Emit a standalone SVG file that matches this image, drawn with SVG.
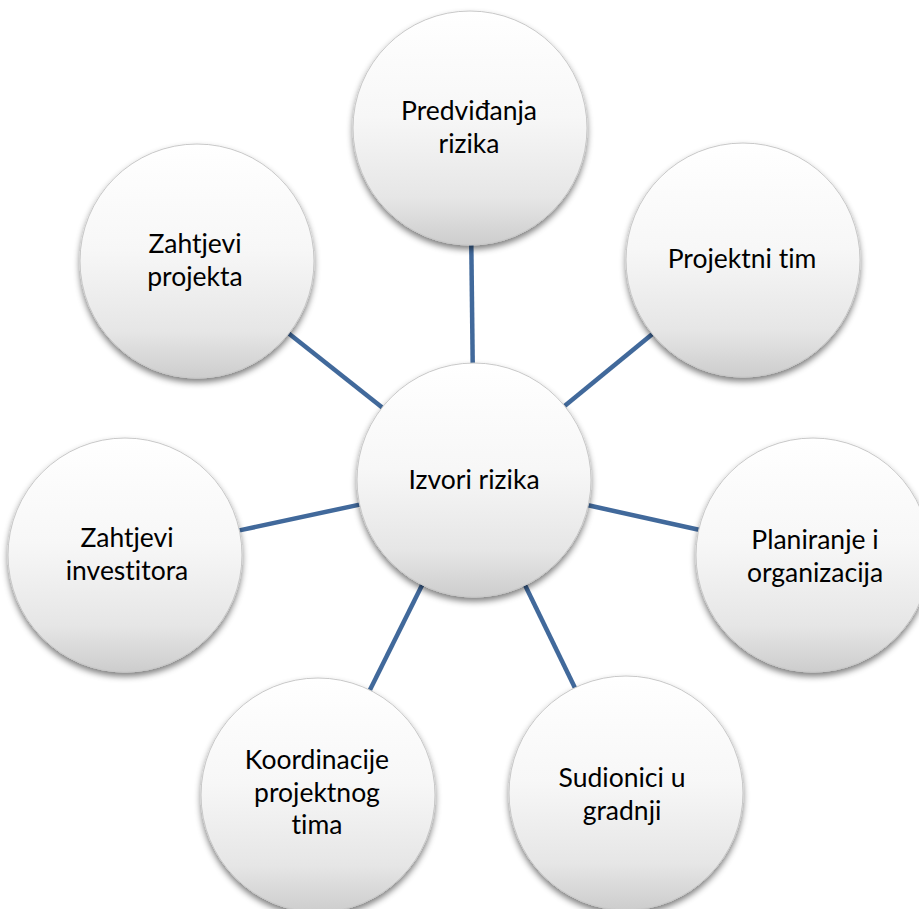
<svg xmlns="http://www.w3.org/2000/svg" width="919" height="909" viewBox="0 0 919 909">
<style>
.conn{stroke:#41699B;stroke-width:4.5;fill:none}
.ball{fill:url(#g);stroke:#c8c8c8;stroke-width:1;filter:url(#sh)}
text{font-family:Lato,"Open Sans",sans-serif;font-size:26.5px;fill:#000;text-anchor:middle;font-variant-ligatures:none;font-feature-settings:"liga" 0,"clig" 0}
</style>
<defs>
<linearGradient id="g" x1="0" y1="0" x2="0" y2="1">
<stop offset="0" stop-color="#ffffff"/>
<stop offset="0.45" stop-color="#f7f7f7"/>
<stop offset="0.8" stop-color="#e6e6e6"/>
<stop offset="1" stop-color="#cdcdcd"/>
</linearGradient>
<filter id="sh" x="-20%" y="-20%" width="140%" height="140%">
<feGaussianBlur in="SourceAlpha" stdDeviation="3"/>
<feOffset dy="4" result="b"/>
<feFlood flood-color="#000" flood-opacity="0.5"/>
<feComposite in2="b" operator="in"/>
<feMerge><feMergeNode/><feMergeNode in="SourceGraphic"/></feMerge>
</filter>
</defs>
<rect width="919" height="909" fill="#fff"/>
<g id="connectors">
<line class="conn" x1="471.3" y1="245" x2="472.7" y2="363"/>
<line class="conn" x1="652.4" y1="334.1" x2="564.6" y2="405.9"/>
<line class="conn" x1="698.8" y1="529.7" x2="588.2" y2="505.3"/>
<line class="conn" x1="574.9" y1="687.8" x2="525.1" y2="585.2"/>
<line class="conn" x1="369.9" y1="690.1" x2="422.1" y2="584.9"/>
<line class="conn" x1="239.4" y1="530.4" x2="359.6" y2="504.6"/>
<line class="conn" x1="288.8" y1="333.6" x2="382.2" y2="407.4"/>
</g>
<g id="center">
<circle class="ball" cx="474" cy="480" r="117"/>
<text x="474" y="489">Izvori rizika</text>
</g>
<g id="n-top">
<circle class="ball" cx="470" cy="128" r="117"/>
<text x="469" y="120">Predviđanja</text>
<text x="469" y="152.5">rizika</text>
</g>
<g id="n-topright">
<circle class="ball" cx="743" cy="260" r="117"/>
<text x="742" y="268">Projektni tim</text>
</g>
<g id="n-right">
<circle class="ball" cx="813" cy="555" r="117"/>
<text x="815" y="549">Planiranje i</text>
<text x="815" y="581.5">organizacija</text>
</g>
<g id="n-bottomright">
<circle class="ball" cx="626" cy="793" r="117"/>
<text x="622" y="787">Sudionici u</text>
<text x="622" y="819.5">gradnji</text>
</g>
<g id="n-bottomleft">
<circle class="ball" cx="318" cy="795" r="117"/>
<text x="317" y="769">Koordinacije</text>
<text x="317" y="801.5">projektnog</text>
<text x="317" y="834">tima</text>
</g>
<g id="n-left">
<circle class="ball" cx="125" cy="555" r="117"/>
<text x="127" y="547">Zahtjevi</text>
<text x="127" y="579.5">investitora</text>
</g>
<g id="n-topleft">
<circle class="ball" cx="197" cy="261" r="117"/>
<text x="195" y="253">Zahtjevi</text>
<text x="195" y="285.5">projekta</text>
</g>
</svg>
